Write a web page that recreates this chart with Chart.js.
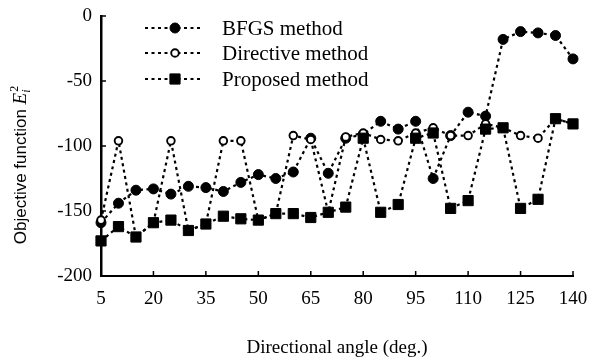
<!DOCTYPE html>
<html>
<head>
<meta charset="utf-8">
<script src="https://cdn.jsdelivr.net/npm/chart.js@4"></script>
<style>
html,body{margin:0;padding:0;background:#fff;}
#c{display:block;}
</style>
</head>
<body>
<canvas id="c" width="590" height="361"></canvas>
<script>
// ---- data ----
const angles    = [5,10,15,20,25,30,35,40,45,50,55,60,65,70,75,80,85,90,95,100,105,110,115,120,125,130,135,140];
const bfgs      = [-159,-144,-134,-133,-137,-131,-132,-135,-128,-122,-125,-120,-94,-121,-94,-91,-81,-87,-81,-125,-92,-74,-77,-18,-12,-13,-15,-33];
const directive = [-157,-96,-170,-159,-96,-165,-160,-96,-96,-157,-152,-92,-95,-151,-93,-90,-95,-96,-90,-86,-92,-92,-83,-86,-92,-94,-79,-83];
const proposed  = [-173,-162,-170,-159,-157,-165,-160,-154,-156,-157,-152,-152,-155,-151,-147,-94,-151,-145,-94,-90,-148,-142,-87,-86,-148,-141,-79,-83];
const xTickValues = [5,20,35,50,65,80,95,110,125,140];
const yTickValues = [0,-50,-100,-150,-200];
const seriesNames = ['BFGS method','Directive method','Proposed method'];
const xTitleText = 'Directional angle (deg.)';
const yTitleText = 'Objective function ';

const toPts = arr => arr.map((v,i)=>({x:angles[i], y:v}));
const serif = "'Liberation Serif','Times New Roman',serif";
const sans = "'Liberation Sans',Arial,sans-serif";

const common = {
  borderColor:'#000', borderWidth:2.2, borderDash:[3,3.5], tension:0,
  pointBorderColor:'#000', clip:false, fill:false
};

const datasets = [
  Object.assign({}, common, {label:seriesNames[0], data:toPts(bfgs), pointStyle:'circle', pointRadius:5, pointBackgroundColor:'#000', pointBorderWidth:1, order:2}),
  Object.assign({}, common, {label:seriesNames[1], data:toPts(directive), pointStyle:'circle', pointRadius:3.8, pointBackgroundColor:'#fff', pointBorderWidth:1.9, order:1}),
  Object.assign({}, common, {label:seriesNames[2], data:toPts(proposed), pointStyle:'rect', pointRadius:7.2, pointBackgroundColor:'#000', pointBorderWidth:1, order:0})
];

const inwardTicks = {
  id:'inwardTicks',
  afterDraw(chart){
    const {ctx, chartArea:a, scales:{x,y}} = chart;
    ctx.save();
    ctx.strokeStyle='#000'; ctx.lineWidth=1.5; ctx.setLineDash([]);
    ctx.beginPath();
    xTickValues.forEach(v=>{const px=x.getPixelForValue(v); ctx.moveTo(px,a.bottom); ctx.lineTo(px,a.bottom-5);});
    yTickValues.forEach(v=>{const py=y.getPixelForValue(v); ctx.moveTo(a.left,py); ctx.lineTo(a.left+5,py);});
    ctx.stroke();
    ctx.restore();
  }
};

const customLegend = {
  id:'customLegend',
  afterDraw(chart){
    const {ctx} = chart;
    const rows = [28,53,79];
    ctx.save();
    chart.data.datasets.forEach((ds,i)=>{
      const yy = rows[i];
      ctx.strokeStyle='#000'; ctx.lineWidth=2.2; ctx.setLineDash([3,3.5]);
      ctx.beginPath(); ctx.moveTo(145,yy); ctx.lineTo(201,yy); ctx.stroke();
      ctx.setLineDash([]);
      ctx.fillStyle = ds.pointBackgroundColor; ctx.strokeStyle='#000'; ctx.lineWidth=ds.pointBorderWidth;
      Chart.helpers.drawPoint(ctx,{pointStyle:ds.pointStyle, radius:ds.pointRadius, rotation:0, borderWidth:ds.pointBorderWidth}, 175, yy);
      ctx.fillStyle='#000';
      ctx.font = "21px " + serif;
      ctx.textBaseline='middle'; ctx.textAlign='left';
      ctx.fillText(ds.label, 222, yy+1);
    });
    ctx.restore();
  }
};

const yTitle = {
  id:'yTitle',
  afterDraw(chart){
    const {ctx} = chart;
    ctx.save();
    ctx.translate(20,165);
    ctx.rotate(-Math.PI/2);
    ctx.fillStyle='#000';
    ctx.textBaseline='alphabetic'; ctx.textAlign='left';
    const f1 = "17px " + sans, f2 = "italic 19px " + serif, f3 = "12px " + serif, f4 = "italic 12px " + serif;
    ctx.font=f1; const w1 = ctx.measureText(yTitleText).width;
    ctx.font=f2; const w2 = ctx.measureText('E').width;
    const total = w1 + w2 + 7;
    let x0 = -total/2;
    const base = 6;
    ctx.font=f1; ctx.fillText(yTitleText, x0, base);
    ctx.font=f2; ctx.fillText('E', x0+w1, base);
    ctx.font=f3; ctx.fillText('2', x0+w1+w2+1, base-8);
    ctx.font=f4; ctx.fillText('i', x0+w1+w2, base+4);
    ctx.restore();
  }
};

new Chart(document.getElementById('c'), {
  type:'line',
  data:{datasets},
  options:{
    responsive:false, animation:false, devicePixelRatio:1,
    layout:{padding:{left:0,right:17,top:16,bottom:0}},
    plugins:{legend:{display:false}, tooltip:{enabled:false}},
    scales:{
      x:{
        type:'linear', min:5, max:140,
        afterFit(s){ s.height = 85; s.paddingRight = 0; s.paddingLeft = 0; },
        afterBuildTicks(s){ s.ticks = xTickValues.map(v=>({value:v})); },
        grid:{display:false, drawTicks:false},
        border:{display:true, color:'#000', width:2},
        ticks:{color:'#000', padding:12, autoSkip:false, maxRotation:0, font:{family:serif, size:19}},
        title:{display:true, text:xTitleText, color:'#000', font:{family:serif, size:19}, padding:{top:0,bottom:2}}
      },
      y:{
        type:'linear', min:-200, max:0,
        afterFit(s){ s.width = 101; s.paddingTop = 0; s.paddingBottom = 0; },
        afterBuildTicks(s){ s.ticks = yTickValues.map(v=>({value:v})); },
        grid:{display:false, drawTicks:false},
        border:{display:true, color:'#000', width:2.5},
        ticks:{color:'#000', padding:9, font:{family:serif, size:19}}
      }
    }
  },
  plugins:[inwardTicks, customLegend, yTitle]
});
</script>
</body>
</html>
